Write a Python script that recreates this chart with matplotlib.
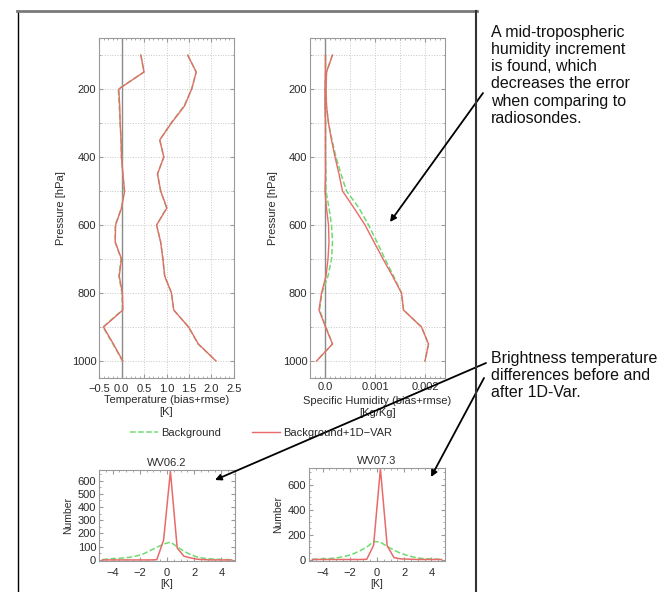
import numpy as np
import matplotlib
matplotlib.use("Agg")
import matplotlib.pyplot as plt
from matplotlib.ticker import MultipleLocator, FixedLocator
from matplotlib.lines import Line2D
from matplotlib.patches import FancyArrowPatch

plt.rcParams["font.family"] = ["Liberation Sans", "DejaVu Sans"]

# ---------------------------------------------------------
# Data
# ---------------------------------------------------------
pressure = [100, 150, 200, 250, 300, 350, 400, 450, 500, 550,
            600, 650, 700, 750, 800, 850, 900, 950, 1000]

# temperature bias / rmse (K)
t_bias_bg = [0.43, 0.50, -0.07, -0.05, -0.03, -0.01, 0.00, 0.03, 0.06, 0.00,
             -0.14, -0.14, -0.01, -0.06, 0.01, 0.02, -0.41, -0.19, 0.02]
t_bias_1d = [0.43, 0.50, -0.06, -0.04, -0.03, -0.01, 0.00, 0.03, 0.07, 0.00,
             -0.13, -0.14, 0.00, -0.05, 0.02, 0.03, -0.40, -0.18, 0.03]
t_rmse_bg = [1.47, 1.66, 1.56, 1.39, 1.10, 0.85, 0.94, 0.80, 0.87, 1.00,
             0.78, 0.87, 0.92, 0.96, 1.11, 1.16, 1.49, 1.70, 2.10]
t_rmse_1d = [1.47, 1.66, 1.56, 1.40, 1.11, 0.85, 0.94, 0.80, 0.87, 1.01,
             0.78, 0.87, 0.92, 0.96, 1.11, 1.16, 1.49, 1.71, 2.10]

# specific humidity bias / rmse (kg/kg)
q_bias_bg = [0.00001, 0.00001, 0.0, 0.0, 0.00001, 0.00001, 0.00001, 0.00002, 0.00002, 0.00008,
             0.00013, 0.00015, 0.00013, 0.00006, -0.00006, -0.00011, 0.00002, 0.00015, -0.00017]
q_bias_1d = [0.00001, 0.00001, 0.0, 0.0, 0.00001, 0.00001, 0.00001, 0.00001, 0.0, 0.00003,
             0.00007, 0.00008, 0.00006, 0.00002, -0.00007, -0.00012, 0.00001, 0.00015, -0.00017]
q_rmse_bg = [0.00015, 0.00003, 0.00002, 0.00003, 0.00007, 0.00014, 0.00022, 0.00032, 0.00043, 0.00068,
             0.00087, 0.00104, 0.00120, 0.00137, 0.00153, 0.00157, 0.00193, 0.00207, 0.00200]
q_rmse_1d = [0.00015, 0.00003, 0.00002, 0.00003, 0.00007, 0.00013, 0.00020, 0.00028, 0.00035, 0.00058,
             0.00080, 0.00098, 0.00116, 0.00135, 0.00153, 0.00157, 0.00193, 0.00207, 0.00200]

# brightness temperature difference histograms
bt_bins = [-4.75, -4.25, -3.75, -3.25, -2.75, -2.25, -1.75, -1.25, -0.75, -0.25,
           0.25, 0.75, 1.25, 1.75, 2.25, 2.75, 3.25, 3.75, 4.25, 4.75]
wv62_bg = [3, 8, 10, 15, 20, 30, 45, 70, 95, 120,
           135, 100, 65, 40, 22, 12, 8, 5, 3, 2]
wv62_1d = [0, 0, 0, 0, 0, 0, 0, 0, 2, 150,
           670, 90, 28, 15, 5, 2, 0, 0, 0, 0]
wv73_bg = [2, 4, 6, 10, 17, 28, 45, 70, 100, 145,
           140, 105, 75, 50, 32, 18, 9, 5, 3, 2]
wv73_1d = [0, 0, 0, 0, 0, 0, 0, 0, 2, 115,
           730, 110, 15, 5, 3, 1, 0, 0, 0, 0]

GREEN = "#6fdc6f"
RED = "#e86a6a"
TXT = "#2a2a2a"
W, H = 671, 592

fig = plt.figure(figsize=(W / 100, H / 100), dpi=100)


def box(x0, y0, x1, y1):
    # image pixel box -> figure fraction rect
    return [x0 / W, 1 - y1 / H, (x1 - x0) / W, (y1 - y0) / H]


def style(ax):
    for s in ax.spines.values():
        s.set_color("#9a9a9a")
        s.set_linewidth(0.8)
    ax.tick_params(which="both", direction="in", top=True, right=True,
                   color="#9a9a9a", labelsize=8, labelcolor=TXT)
    ax.tick_params(axis="x", pad=4)
    ax.tick_params(axis="y", pad=2)
    ax.tick_params(which="major", length=3)
    ax.tick_params(which="minor", length=1.5)


def profile_grid(ax):
    ax.xaxis.grid(True, which="major", ls=":", color="#c8c8c8", lw=0.7)
    ax.yaxis.grid(True, which="both", ls=":", color="#c8c8c8", lw=0.7)


# ---------------------------------------------------------
# Temperature profile
# ---------------------------------------------------------
ax1 = fig.add_axes(box(99, 38, 234, 378))
ax1.axvline(0, color="#8a8a8a", lw=1)
ax1.plot(t_bias_bg, pressure, color=GREEN, ls="--", lw=1.1)
ax1.plot(t_rmse_bg, pressure, color=GREEN, ls="--", lw=1.1)
ax1.plot(t_bias_1d, pressure, color=RED, lw=1.0)
ax1.plot(t_rmse_1d, pressure, color=RED, lw=1.0)
ax1.set_xlim(-0.5, 2.5)
ax1.set_ylim(1050, 50)
ax1.set_xticks([-0.5, 0.0, 0.5, 1.0, 1.5, 2.0, 2.5])
ax1.set_xticklabels(["\u22120.5", "0.0", "0.5", "1.0", "1.5", "2.0", "2.5"])
ax1.xaxis.set_minor_locator(MultipleLocator(0.1))
ax1.yaxis.set_major_locator(FixedLocator([200, 400, 600, 800, 1000]))
ax1.yaxis.set_minor_locator(MultipleLocator(100))
profile_grid(ax1)
ax1.set_xlabel("Temperature (bias+rmse)\n[K]", fontsize=8, color=TXT, labelpad=1, linespacing=1.3)
ax1.set_ylabel("Pressure [hPa]", fontsize=8, color=TXT, labelpad=4)
style(ax1)

# ---------------------------------------------------------
# Specific humidity profile
# ---------------------------------------------------------
ax2 = fig.add_axes(box(310, 38, 445, 378))
ax2.axvline(0, color="#8a8a8a", lw=1)
ax2.plot(q_bias_bg, pressure, color=GREEN, ls="--", lw=1.1)
ax2.plot(q_rmse_bg, pressure, color=GREEN, ls="--", lw=1.1)
ax2.plot(q_bias_1d, pressure, color=RED, lw=1.0)
ax2.plot(q_rmse_1d, pressure, color=RED, lw=1.0)
ax2.set_xlim(-0.0003, 0.0024)
ax2.set_ylim(1050, 50)
ax2.xaxis.set_major_locator(FixedLocator([0.0, 0.001, 0.002]))
ax2.xaxis.set_minor_locator(MultipleLocator(0.0001))
ax2.set_xticklabels(["0.0", "0.001", "0.002"])
ax2.yaxis.set_major_locator(FixedLocator([200, 400, 600, 800, 1000]))
ax2.yaxis.set_minor_locator(MultipleLocator(100))
ax2.yaxis.grid(True, which="both", ls=":", color="#c8c8c8", lw=0.7)
for xv in [0.0005, 0.001, 0.0015, 0.002]:
    ax2.axvline(xv, ls=":", color="#c8c8c8", lw=0.7, zorder=0)
ax2.set_xlabel("Specific Humidity (bias+rmse)\n[Kg/Kg]", fontsize=8, color=TXT, labelpad=2.5, linespacing=1.25)
ax2.set_ylabel("Pressure [hPa]", fontsize=8, color=TXT, labelpad=3)
style(ax2)
ax2.tick_params(axis="x", pad=3)

# ---------------------------------------------------------
# Legend
# ---------------------------------------------------------
handles = [Line2D([], [], color=GREEN, ls="--", lw=1.1),
           Line2D([], [], color=RED, lw=1.0)]
fig.legend(handles, ["Background", "Background+1D\u2212VAR"], loc="center",
           bbox_to_anchor=(261 / W, 1 - 433 / H), ncol=2, frameon=False,
           fontsize=8, handlelength=2.5, handletextpad=0.3, columnspacing=2.8,
           labelcolor=TXT)

# ---------------------------------------------------------
# Histograms
# ---------------------------------------------------------
ax3 = fig.add_axes(box(99, 470, 235, 561))
ax3.plot(bt_bins, wv62_bg, color=GREEN, ls="--", lw=1.1)
ax3.plot(bt_bins, wv62_1d, color=RED, lw=1.1)
ax3.set_xlim(-5, 5)
ax3.set_ylim(-8, 680)
ax3.set_xticks([-4, -2, 0, 2, 4])
ax3.set_xticklabels(["\u22124", "\u22122", "0", "2", "4"])
ax3.xaxis.set_minor_locator(MultipleLocator(0.5))
ax3.yaxis.set_major_locator(MultipleLocator(100))
ax3.yaxis.set_minor_locator(MultipleLocator(50))
ax3.set_title("WV06.2", fontsize=8, color=TXT, pad=3)
ax3.set_xlabel("[K]", fontsize=7.5, color=TXT, labelpad=1)
ax3.set_ylabel("Number", fontsize=7.5, color=TXT, labelpad=3)
style(ax3)
ax3.tick_params(axis="x", pad=5)

ax4 = fig.add_axes(box(309, 468, 445, 561))
ax4.plot(bt_bins, wv73_bg, color=GREEN, ls="--", lw=1.1)
ax4.plot(bt_bins, wv73_1d, color=RED, lw=1.1)
ax4.set_xlim(-5, 5)
ax4.set_ylim(-12, 736)
ax4.set_xticks([-4, -2, 0, 2, 4])
ax4.set_xticklabels(["\u22124", "\u22122", "0", "2", "4"])
ax4.xaxis.set_minor_locator(MultipleLocator(0.5))
ax4.yaxis.set_major_locator(MultipleLocator(200))
ax4.yaxis.set_minor_locator(MultipleLocator(50))
ax4.set_title("WV07.3", fontsize=8, color=TXT, pad=3)
ax4.set_xlabel("[K]", fontsize=7.5, color=TXT, labelpad=1)
ax4.set_ylabel("Number", fontsize=7.5, color=TXT, labelpad=3)
style(ax4)
ax4.tick_params(axis="x", pad=5)

# ---------------------------------------------------------
# Frame around the figure part
# ---------------------------------------------------------
fig.add_artist(Line2D([17.5 / W, 17.5 / W], [0, 1 - 11 / H], color="black", lw=1))
fig.add_artist(Line2D([17 / W, 477 / W], [1 - 11 / H, 1 - 11 / H], color="#7a7a7a", lw=2))
fig.add_artist(Line2D([476 / W, 476 / W], [0, 1 - 11 / H], color="#333333", lw=1.5))

# ---------------------------------------------------------
# Annotations
# ---------------------------------------------------------
fig.text(491 / W, 1 - 25 / H,
         "A mid-tropospheric\nhumidity increment\nis found, which\ndecreases the error\nwhen comparing to\nradiosondes.",
         fontsize=11.5, va="top", ha="left", color="#111111", linespacing=1.18)
fig.text(491 / W, 1 - 351 / H,
         "Brightness temperature\ndifferences before and\nafter 1D-Var.",
         fontsize=11.5, va="top", ha="left", color="#111111", linespacing=1.18)

arrow = dict(arrowstyle="-|>", color="black", lw=1.3, mutation_scale=9, shrinkA=0, shrinkB=0)
for (x0, y0), (x1, y1) in [((483, 93), (390, 222)),
                           ((486, 363), (215, 480)),
                           ((484, 378), (431, 477))]:
    fig.add_artist(FancyArrowPatch((x0 / W, 1 - y0 / H), (x1 / W, 1 - y1 / H),
                                   transform=fig.transFigure, **arrow))

fig.savefig("out.png", dpi=100, facecolor="white")
